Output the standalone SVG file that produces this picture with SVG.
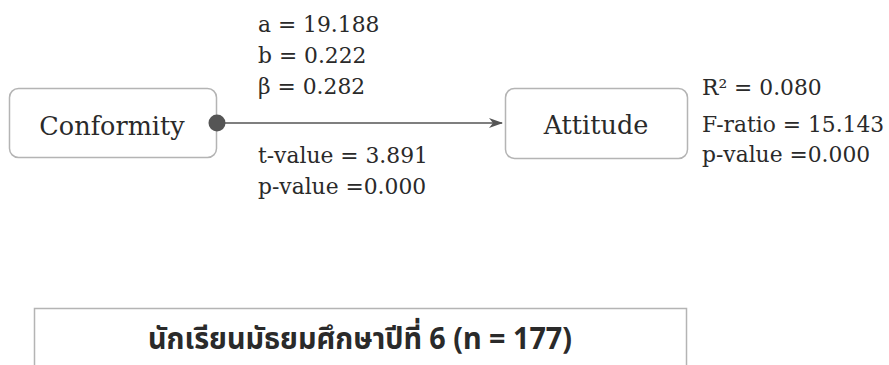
<svg xmlns="http://www.w3.org/2000/svg" width="889" height="365" viewBox="0 0 889 365">
<style>
.box{fill:#fff;stroke:#b4b4b4;stroke-width:1.5}
.nodetext{font-family:"DejaVu Serif","Liberation Serif",serif;font-size:25.5px;fill:#2a2a2a;text-anchor:middle}
.lbl{font-family:"DejaVu Serif","Liberation Serif",serif;font-size:21.8px;fill:#2a2a2a}
.conn{stroke:#555;stroke-width:1.5;fill:none}
.thai{font-family:"Noto Sans","Noto Sans Thai","DejaVu Sans",sans-serif;font-size:30px;font-weight:bold;fill:#2a2a2a;text-anchor:middle}
</style>
<defs>
<marker id="arr" viewBox="0 0 14 10" refX="13" refY="5" markerWidth="14" markerHeight="10" markerUnits="userSpaceOnUse" orient="auto">
<path d="M0,0 L14,5 L0,10 L4,5 Z" fill="#555"/>
</marker>
</defs>
<rect width="889" height="365" fill="#fff"/>
<g id="conformity">
<rect class="box" x="9.5" y="88.5" width="207" height="69" rx="9"/>
<text class="nodetext" x="112" y="135">Conformity</text>
</g>
<g id="attitude">
<rect class="box" x="505.5" y="88.5" width="182" height="70" rx="9"/>
<text class="nodetext" x="596" y="134">Attitude</text>
</g>
<g id="connectors">
<line class="conn" x1="217" y1="123" x2="502" y2="123" marker-end="url(#arr)"/>
<circle cx="217" cy="123" r="8.5" fill="#555"/>
</g>
<g id="path-labels">
<text class="lbl" x="258" y="32">a = 19.188</text>
<text class="lbl" x="258" y="63">b = 0.222</text>
<text class="lbl" x="258" y="94">β = 0.282</text>
<text class="lbl" x="258" y="163">t-value = 3.891</text>
<text class="lbl" x="258" y="194">p-value =0.000</text>
</g>
<g id="model-labels">
<text class="lbl" x="702" y="95">R² = 0.080</text>
<text class="lbl" x="702" y="132">F-ratio = 15.143</text>
<text class="lbl" x="702" y="162">p-value =0.000</text>
</g>
<g id="sample">
<rect class="box" x="34.5" y="308.5" width="652" height="80"/>
<text class="thai" x="360" y="349" textLength="424" lengthAdjust="spacingAndGlyphs">นักเรียนมัธยมศึกษาปีที่ 6 (n = 177)</text>
</g>
</svg>
